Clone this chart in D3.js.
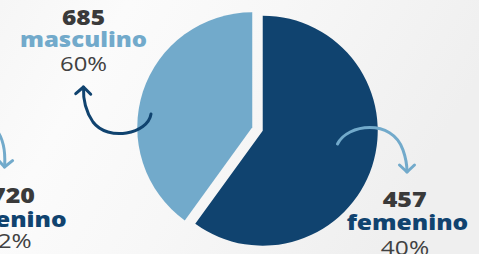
<!DOCTYPE html>
<html>
<head>
<meta charset="utf-8">
<script src="https://cdn.jsdelivr.net/npm/d3@7/dist/d3.min.js"></script>
<style>
  html, body { margin: 0; padding: 0; background: #f5f5f5; }
  svg { display: block; }
</style>
</head>
<body>
<svg id="chart" width="479" height="254"></svg>
<script>
// ---- data ----
const categories = ["masculino", "femenino"];
const counts = [685, 457];
const percentLabels = ["60%", "40%"];
// partially visible neighbouring chart (cut at the left edge)
const sideCount = "720";
const sideCategory = "femenino";
const sidePercent = "62%";

// ---- styles ----
const sliceColors = ["#10436f", "#72aacb"];
const labelColors = { masculino: "#72aacb", femenino: "#10436f" };
const numColor = "#3a3a3a";
const pctColor = "#414141";

const svg = d3.select("#chart");
const W = 479, H = 254;

// background
const defs = svg.append("defs");
const bg = defs.append("linearGradient").attr("id", "bg")
  .attr("x1", "0").attr("y1", "0").attr("x2", "1").attr("y2", "0.3");
bg.append("stop").attr("offset", "0").attr("stop-color", "#f6f6f6");
bg.append("stop").attr("offset", "0.25").attr("stop-color", "#fbfbfb");
bg.append("stop").attr("offset", "0.55").attr("stop-color", "#f7f7f7");
bg.append("stop").attr("offset", "1").attr("stop-color", "#efefef");
svg.append("rect").attr("width", W).attr("height", H).attr("fill", "url(#bg)");

// arrow marker
function marker(id, color) {
  defs.append("marker").attr("id", id)
    .attr("viewBox", "-10 -10 20 20")
    .attr("markerUnits", "userSpaceOnUse")
    .attr("markerWidth", 20).attr("markerHeight", 20)
    .attr("refX", 0).attr("refY", 0)
    .attr("orient", "auto")
    .append("path")
    .attr("d", "M-7,-7.5 L0,0 L-7,7.5")
    .attr("fill", "none").attr("stroke", color)
    .attr("stroke-width", 3).attr("stroke-linecap", "round").attr("stroke-linejoin", "round");
}
marker("mDark", "#10436f");
marker("mLight", "#72aacb");

// ---- pie ----
const cx = 257.5, cy = 129, r = 115, explode = 5.5;
const pie = d3.pie().sort(null).value(d => d.value).startAngle(0).endAngle(2 * Math.PI);
const data = categories.map((c, i) => ({ cat: c, value: counts[i], color: sliceColors[i] }));
const arcs = pie(data);
const arc = d3.arc().innerRadius(0).outerRadius(r);

svg.append("g").attr("transform", `translate(${cx},${cy})`)
  .selectAll("path").data(arcs).join("path")
  .attr("transform", d => {
    const m = (d.startAngle + d.endAngle) / 2;
    return `translate(${explode * Math.sin(m)},${-explode * Math.cos(m)})`;
  })
  .attr("d", arc)
  .attr("fill", d => d.data.color);

// ---- arrows ----
const arrows = svg.append("g").attr("fill", "none").attr("stroke-width", 3).attr("stroke-linecap", "round");
arrows.append("path")
  .attr("d", "M151,114 C148,134 108,142 93,122 C86,112 83,100 83.5,87")
  .attr("stroke", "#10436f").attr("marker-end", "url(#mDark)");
arrows.append("path")
  .attr("d", "M337.5,144 C347,124 392,118 403,150 C405.5,157 407,165 407,172")
  .attr("stroke", "#72aacb").attr("marker-end", "url(#mLight)");
arrows.append("path")
  .attr("d", "M-12,124 C2,130 6,148 4.5,167")
  .attr("stroke", "#72aacb").attr("marker-end", "url(#mLight)");

// ---- labels ----
const heavy = "'Open Sans', 'DejaVu Sans', sans-serif";
function label(x, y, txt, opts) {
  svg.append("text")
    .attr("x", x).attr("y", y)
    .attr("text-anchor", opts.anchor || "middle")
    .attr("font-family", heavy)
    .attr("font-weight", opts.weight)
    .attr("font-size", opts.size)
    .attr("fill", opts.color)
    .attr("textLength", opts.len)
    .attr("lengthAdjust", "spacingAndGlyphs")
    .text(txt);
}
// masculino group
label(83.5, 25, String(counts[0]), { weight: 800, size: 21, color: numColor, len: 43 });
label(83.5, 46.7, categories[0], { weight: 800, size: 21, color: labelColors.masculino, len: 127 });
label(83.5, 70.7, percentLabels[0], { weight: 400, size: 20.5, color: pctColor, len: 47 });
// femenino group
label(404.7, 207.3, String(counts[1]), { weight: 800, size: 21, color: numColor, len: 44 });
label(407.5, 230, categories[1], { weight: 800, size: 21, color: labelColors.femenino, len: 121.6 });
label(405, 254.6, percentLabels[1], { weight: 400, size: 20.5, color: pctColor, len: 48.3 });
// neighbouring chart (cut)
label(35, 203.3, sideCount, { weight: 800, size: 21, color: numColor, len: 44, anchor: "end" });
label(66.7, 226.7, sideCategory, { weight: 800, size: 21, color: labelColors.femenino, len: 121.6, anchor: "end" });
label(31.7, 248, sidePercent, { weight: 400, size: 20.5, color: pctColor, len: 48, anchor: "end" });
</script>
</body>
</html>
